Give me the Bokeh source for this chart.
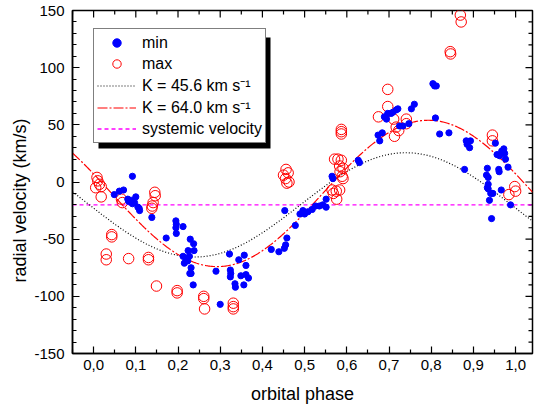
import numpy as np
from bokeh.plotting import figure
from bokeh.models import Range1d, FixedTicker, Legend, LegendItem, BoxAnnotation, Title
from bokeh.embed import file_html
from bokeh.resources import INLINE

# ---- data ----
min_phase = [0.049, 0.061, 0.071, 0.081, 0.083, 0.089, 0.092, 0.092, 0.097, 0.100, 0.105, 0.108, 0.109, 0.138,
             0.172, 0.195, 0.196, 0.195, 0.196, 0.212, 0.224, 0.229, 0.237, 0.238,
             0.212, 0.219, 0.227, 0.215, 0.223, 0.231, 0.228, 0.231, 0.236,
             0.290, 0.300,
             0.322, 0.324, 0.325, 0.324, 0.335, 0.336, 0.344, 0.357, 0.361, 0.349, 0.361, 0.367, 0.356,
             0.421, 0.439, 0.452, 0.455, 0.458, 0.453, 0.478, 0.489, 0.496, 0.500, 0.508, 0.518, 0.526,
             0.535, 0.543, 0.551, 0.551, 0.565, 0.567,
             0.627, 0.630,
             0.674, 0.678, 0.684, 0.689, 0.694, 0.697, 0.705, 0.709, 0.717, 0.721, 0.725, 0.733, 0.747,
             0.753, 0.760,
             0.804, 0.808, 0.812, 0.810, 0.820, 0.842,
             0.879, 0.883, 0.885, 0.891, 0.893,
             0.931, 0.933, 0.935, 0.935, 0.933, 0.935, 0.941, 0.946, 0.938, 0.943,
             0.952, 0.956, 0.962, 0.967, 0.972, 0.974, 0.976, 0.960, 0.961, 0.966, 0.982, 0.988]
min_vel = [-11, -8, -7, -15, -17, -16, 5, -19, -18, -13, -22, -23, -25, -31,
           -49, -34, -37, -40, -45, -39, -60, -50, -54, -60,
           -65, -67, -65, -71, -69, -75, -80, -80, -90,
           -78, -107,
           -63, -77, -80, -83, -89, -92, -68, -64, -73, -82, -81, -84, -90,
           -59, -61, -58, -55, -49, -25, -38, -28, -25, -28, -26, -24, -21,
           -21, -20, -22, -15, 5, 3,
           19, 17,
           41, 36, 43, 57, 55, 60, 60, 61, 63, 64, 49, 49, 51,
           64, 68,
           86, 84, 84, 56, 42, 43,
           11, 36, 33, 30, 36,
           6, 12, 4, -2, -5, -6, -10, -10, -16, -32,
           34, 24, 23, 27, 29, 25, 20, 11, 9, -7, 13, -20]

max_phase = [0.008, 0.010, 0.014, 0.005, 0.018, 0.018,
             0.066, 0.068,
             0.145, 0.146, 0.141, 0.139, 0.138,
             0.043, 0.043, 0.030, 0.030, 0.083, 0.130, 0.130, 0.149, 0.198, 0.198,
             0.261, 0.261, 0.263, 0.331, 0.331, 0.331,
             0.456, 0.461, 0.450, 0.455, 0.458, 0.463,
             0.571, 0.579, 0.587, 0.583, 0.591, 0.584, 0.589, 0.591,
             0.565, 0.575, 0.583, 0.568, 0.576,
             0.587, 0.587, 0.587,
             0.675, 0.697, 0.697, 0.711, 0.717, 0.723, 0.713, 0.741, 0.741,
             0.845, 0.846, 0.869, 0.871,
             0.945, 0.945, 0.998, 1.000, 0.984]
max_vel = [4, 1, -2, -5, -4, -13,
           -15, -18,
           -9, -12, -18, -21, -23,
           -46, -48, -63, -68, -67, -66, -68, -91, -95, -97,
           -100, -102, -111, -106, -109, -111,
           11, 8, 6, 3, -1, 0,
           20, 20, 19, 14, 12, 9, 5, 3,
           -7, -8, -7, -10, -15,
           46, 44, 42,
           57, 81, 66, 55, 48, 45, 40, 55, 51,
           114, 112, 146, 140,
           41, 36, -4, -8, -11]

# model curves: v = gamma + K cos(2 pi (phase - phase_max))
K_low, gamma_low, phase_max_low = 45.6, -20.0, 0.74
K_high, gamma_high, phase_max_high = 64.0, -10.0, 0.793
systemic_velocity = -20.0

x_ticks = [0.0, 0.1, 0.2, 0.3, 0.4, 0.5, 0.6, 0.7, 0.8, 0.9, 1.0]
x_labels = ["0,0", "0,1", "0,2", "0,3", "0,4", "0,5", "0,6", "0,7", "0,8", "0,9", "1,0"]
x_minor = [-0.05, 0.05, 0.15, 0.25, 0.35, 0.45, 0.55, 0.65, 0.75, 0.85, 0.95]
y_ticks = [-150, -100, -50, 0, 50, 100, 150]
y_labels = ["-150", "-100", "-50", "0", "50", "100", "150"]
y_minor = [v for v in range(-150, 151, 10) if v not in y_ticks]

x_lo, x_hi = -0.05, 1.04
y_lo, y_hi = -150, 150

FONT = "Liberation Sans"
W, H = 535, 409
B_LEFT, B_RIGHT, B_TOP, B_BOTTOM = 72, 3, 10, 56

p = figure(width=W, height=H,
           x_range=Range1d(x_lo, x_hi), y_range=Range1d(y_lo, y_hi),
           output_backend="svg", toolbar_location=None,
           min_border_left=B_LEFT, min_border_right=B_RIGHT,
           min_border_top=B_TOP, min_border_bottom=B_BOTTOM,
           x_axis_label="orbital phase")
p.xgrid.visible = False
p.ygrid.visible = False
p.outline_line_color = "black"
p.outline_line_width = 1.5
p.background_fill_color = "white"
p.border_fill_color = "white"

p.xaxis.ticker = FixedTicker(ticks=x_ticks, minor_ticks=x_minor)
p.xaxis.major_label_overrides = {t: l for t, l in zip(x_ticks, x_labels)}
p.yaxis.ticker = FixedTicker(ticks=y_ticks, minor_ticks=y_minor)
p.yaxis.major_label_overrides = {t: l for t, l in zip(y_ticks, y_labels)}

for ax in p.axis:
    ax.axis_line_color = "black"
    ax.axis_line_width = 1.5
    ax.major_tick_line_color = "black"
    ax.minor_tick_line_color = "black"
    ax.major_tick_line_width = 1.2
    ax.minor_tick_line_width = 1.2
    ax.major_tick_in = 7
    ax.major_tick_out = 0
    ax.minor_tick_in = 4
    ax.minor_tick_out = 0
    ax.major_label_text_font = FONT
    ax.major_label_text_font_size = "15px"
    ax.major_label_text_color = "black"
    ax.axis_label_text_font = FONT
    ax.axis_label_text_font_size = "18px"
    ax.axis_label_text_font_style = "normal"
    ax.axis_label_text_color = "black"

p.xaxis.major_label_standoff = 6
p.xaxis.axis_label_standoff = 11
p.yaxis.major_label_standoff = 8

# y-axis title as a side title, so it can sit a little below the frame centre as in the reference
y_title = Title(text="radial velocity (km/s)", align="left", offset=71,
                text_font=FONT, text_font_size="18px", text_font_style="normal",
                text_color="black", standoff=4)
p.add_layout(y_title, "left")

# mirrored inward ticks on the top and right frame edges (lengths converted from px)
frame_w = W - B_LEFT - B_RIGHT
frame_h = H - B_TOP - B_BOTTOM
dx_px = (x_hi - x_lo) / frame_w
dy_px = (y_hi - y_lo) / frame_h
tick_style = dict(line_color="black", line_width=1.2)
p.segment(x0=x_ticks, y0=[y_hi] * len(x_ticks), x1=x_ticks,
          y1=[y_hi - 7 * dy_px] * len(x_ticks), **tick_style)
p.segment(x0=x_minor, y0=[y_hi] * len(x_minor), x1=x_minor,
          y1=[y_hi - 4 * dy_px] * len(x_minor), **tick_style)
p.segment(x0=[x_hi] * len(y_ticks), y0=y_ticks, x1=[x_hi - 7 * dx_px] * len(y_ticks),
          y1=y_ticks, **tick_style)
p.segment(x0=[x_hi] * len(y_minor), y0=y_minor, x1=[x_hi - 4 * dx_px] * len(y_minor),
          y1=y_minor, **tick_style)

grid = np.linspace(x_lo, x_hi, 500)
curve_low = gamma_low + K_low * np.cos(2 * np.pi * (grid - phase_max_low))
curve_high = gamma_high + K_high * np.cos(2 * np.pi * (grid - phase_max_high))
systemic_line = np.full_like(grid, systemic_velocity)

r_sys = p.line(grid, systemic_line, line_color="#FF00FF", line_width=1.3, line_dash="4 3")
r_low = p.line(grid, curve_low, line_color="black", line_width=1.2, line_dash="1 2")
r_high = p.line(grid, curve_high, line_color="#FF0000", line_width=1.2, line_dash="10 2 2 2")
r_max = p.scatter(max_phase, max_vel, marker="circle", size=10.5, fill_alpha=0,
                  line_color="#FF0000", line_width=1)
r_min = p.scatter(min_phase, min_vel, marker="circle", size=6.2, fill_color="#0000FF",
                  line_color="#0000FF")

# legend drop shadow (screen units relative to the plot frame)
shadow = BoxAnnotation(left=26, right=198, bottom=205, top=316,
                       left_units="screen", right_units="screen",
                       top_units="screen", bottom_units="screen",
                       fill_color="black", fill_alpha=1.0, line_alpha=0)
p.add_layout(shadow)

legend = Legend(items=[LegendItem(label="min", renderers=[r_min]),
                       LegendItem(label="max", renderers=[r_max]),
                       LegendItem(label="K = 45.6 km s\u207b\u00b9", renderers=[r_low]),
                       LegendItem(label="K = 64.0 km s\u207b\u00b9", renderers=[r_high]),
                       LegendItem(label="systemic velocity", renderers=[r_sys])],
                location=(21, 210))
legend.label_text_font = FONT
legend.label_text_font_size = "16px"
legend.label_text_color = "black"
legend.glyph_width = 39
legend.glyph_height = 21
legend.label_height = 21
legend.spacing = 0
legend.padding = 3
legend.margin = 0
legend.label_standoff = 6
legend.border_line_color = "black"
legend.border_line_width = 1
legend.background_fill_color = "white"
legend.background_fill_alpha = 1.0
p.add_layout(legend, "center")

open("out.html", "w").write(file_html(p, INLINE))
